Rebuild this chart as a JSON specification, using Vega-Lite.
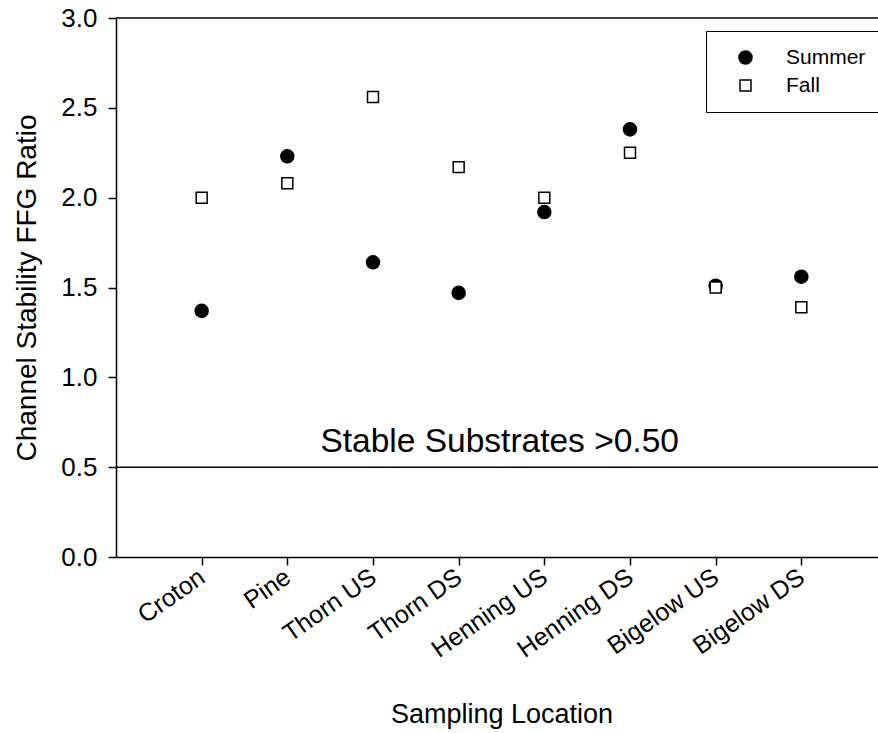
{
  "$schema": "https://vega.github.io/schema/vega-lite/v6.json",
  "width": 762,
  "height": 539,
  "autosize": {"type": "none"},
  "padding": {"left": 116, "top": 18, "right": 0, "bottom": 176},
  "background": "white",
  "config": {
    "font": "Liberation Sans",
    "view": {"stroke": null},
    "axis": {"domainColor": "black", "tickColor": "black", "labelColor": "black", "titleColor": "black", "grid": false, "domainWidth": 1.5, "tickWidth": 1.5, "titleFontWeight": "normal", "labelFont": "Liberation Sans", "titleFont": "Liberation Sans"},
    "legend": {"strokeColor": "black", "fillColor": "white", "padding": 16, "rowPadding": 6, "labelFontSize": 21, "labelFont": "Liberation Sans", "labelColor": "black", "labelOffset": 30, "symbolOffset": 13, "symbolStrokeColor": "black", "symbolStrokeWidth": 1.5, "symbolOpacity": 1}
  },
  "layer": [
    {
      "data": {"values": [{"top": 3}]},
      "mark": {"type": "rule", "color": "black", "strokeWidth": 1.5},
      "encoding": {"y": {"field": "top", "type": "quantitative"}}
    },
    {
      "data": {"values": [{"threshold": 0.5, "note": "Stable Substrates >0.50", "anchor": "Thorn DS"}]},
      "mark": {"type": "rule", "color": "black", "strokeWidth": 1.5},
      "encoding": {"y": {"field": "threshold", "type": "quantitative"}}
    },
    {
      "data": {"values": [{"threshold": 0.5, "note": "Stable Substrates >0.50", "anchor": "Thorn DS"}]},
      "mark": {"type": "text", "fontSize": 33.5, "align": "center", "baseline": "alphabetic", "dx": 41, "dy": -15, "color": "black", "font": "Liberation Sans"},
      "encoding": {
        "x": {"field": "anchor", "type": "nominal"},
        "y": {"field": "threshold", "type": "quantitative"},
        "text": {"field": "note"}
      }
    },
    {
      "data": {
        "values": [
          {"site": "Croton", "season": "Summer", "ratio": 1.37},
          {"site": "Croton", "season": "Fall", "ratio": 2.0},
          {"site": "Pine", "season": "Summer", "ratio": 2.23},
          {"site": "Pine", "season": "Fall", "ratio": 2.08},
          {"site": "Thorn US", "season": "Summer", "ratio": 1.64},
          {"site": "Thorn US", "season": "Fall", "ratio": 2.56},
          {"site": "Thorn DS", "season": "Summer", "ratio": 1.47},
          {"site": "Thorn DS", "season": "Fall", "ratio": 2.17},
          {"site": "Henning US", "season": "Summer", "ratio": 1.92},
          {"site": "Henning US", "season": "Fall", "ratio": 2.0},
          {"site": "Henning DS", "season": "Summer", "ratio": 2.38},
          {"site": "Henning DS", "season": "Fall", "ratio": 2.25},
          {"site": "Bigelow US", "season": "Summer", "ratio": 1.51},
          {"site": "Bigelow US", "season": "Fall", "ratio": 1.5},
          {"site": "Bigelow DS", "season": "Summer", "ratio": 1.56},
          {"site": "Bigelow DS", "season": "Fall", "ratio": 1.39}
        ]
      },
      "mark": {"type": "point", "filled": true, "stroke": "black", "strokeWidth": 1.5, "opacity": 1, "fillOpacity": 1, "strokeOpacity": 1},
      "encoding": {
        "x": {
          "field": "site", "type": "nominal", "sort": null,
          "scale": {"type": "point", "padding": 1, "range": [0, 771], "domain": ["Croton", "Pine", "Thorn US", "Thorn DS", "Henning US", "Henning DS", "Bigelow US", "Bigelow DS"]},
          "axis": {"title": "Sampling Location", "labelAngle": -35, "labelFontSize": 25, "titleFontSize": 27, "tickSize": 8, "labelPadding": 9, "titlePadding": 40}
        },
        "y": {
          "field": "ratio", "type": "quantitative",
          "scale": {"domain": [0, 3], "nice": false, "zero": true},
          "axis": {"title": "Channel Stability FFG Ratio", "values": [0, 0.5, 1, 1.5, 2, 2.5, 3], "format": ".1f", "labelFontSize": 26, "titleFontSize": 28, "tickSize": 8, "labelPadding": 11, "titlePadding": 19}
        },
        "shape": {"field": "season", "type": "nominal", "scale": {"domain": ["Summer", "Fall"], "range": ["circle", "square"]}, "legend": {"title": null, "orient": "none", "legendX": 590, "legendY": 13, "encode": {"symbols": {"update": {"stroke": {"value": "black"}, "strokeWidth": {"value": 1.5}, "strokeOpacity": {"value": 1}}}}}},
        "fill": {"field": "season", "type": "nominal", "scale": {"domain": ["Summer", "Fall"], "range": ["black", "white"]}, "legend": {"title": null, "orient": "none", "legendX": 590, "legendY": 13, "encode": {"symbols": {"update": {"stroke": {"value": "black"}, "strokeWidth": {"value": 1.5}, "strokeOpacity": {"value": 1}}}}}},
        "size": {"field": "season", "type": "nominal", "scale": {"domain": ["Summer", "Fall"], "range": [170, 120]}, "legend": {"title": null, "orient": "none", "legendX": 590, "legendY": 13, "encode": {"symbols": {"update": {"stroke": {"value": "black"}, "strokeWidth": {"value": 1.5}, "strokeOpacity": {"value": 1}}}}}}
      }
    }
  ]
}
